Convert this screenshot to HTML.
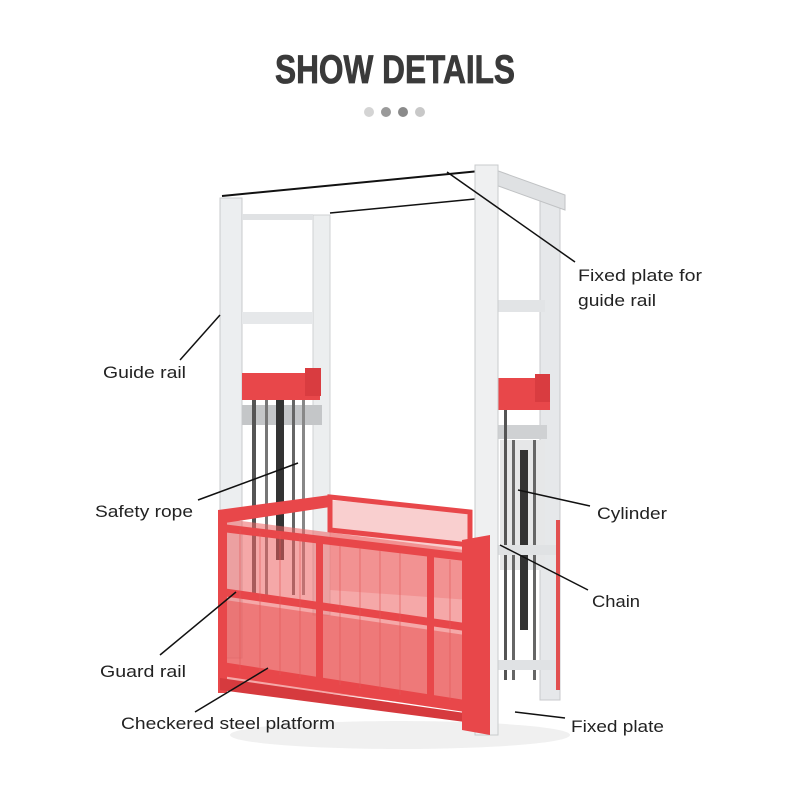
<!DOCTYPE html>
<html><head><meta charset="utf-8"><style>
html,body{margin:0;padding:0;background:#fff;}
svg{display:block;}
.t{font-family:"Liberation Sans",sans-serif;font-size:17px;fill:#222;}
</style></head><body>
<svg width="790" height="799" viewBox="0 0 790 799" xmlns="http://www.w3.org/2000/svg">
<rect width="790" height="799" fill="#fff"/>
<text x="395" y="83" text-anchor="middle" font-family="'Liberation Sans Narrow','Liberation Sans',sans-serif" font-weight="bold" font-size="40" fill="#3a3a3a" stroke="#3a3a3a" stroke-width="0.8" textLength="240" lengthAdjust="spacingAndGlyphs">SHOW DETAILS</text>
<circle cx="369" cy="112" r="5" fill="#d4d4d4"/>
<circle cx="386" cy="112" r="5" fill="#9a9a9a"/>
<circle cx="403" cy="112" r="5" fill="#8a8a8a"/>
<circle cx="420" cy="112" r="5" fill="#c8c8c8"/>

<ellipse cx="400" cy="735" rx="170" ry="14" fill="#f0f0f0"/>

<rect x="540" y="200" width="20" height="500" fill="#e6e8ea" stroke="#c8cacc"/>
<polygon points="490,168 565,195 565,210 490,183" fill="#dfe1e3" stroke="#c0c2c4"/>
<rect x="497" y="300" width="48" height="12" fill="#e2e4e6"/>
<rect x="497" y="425" width="50" height="14" fill="#cfd1d3"/>
<rect x="313" y="215" width="17" height="400" fill="#eceeef" stroke="#cfd1d3"/>
<rect x="220" y="198" width="22" height="460" fill="#eceef0" stroke="#c9cbcd"/>
<rect x="242" y="214" width="71" height="6" fill="#e0e2e4"/>
<rect x="242" y="312" width="71" height="12" fill="#e6e8ea"/>
<line x1="222" y1="196" x2="490" y2="170" stroke="#111" stroke-width="2"/>
<line x1="330" y1="213" x2="475" y2="199" stroke="#111" stroke-width="1.5"/>
<rect x="242" y="405" width="80" height="20" fill="#c4c6c8"/>
<rect x="252" y="395" width="4" height="200" fill="#555"/>
<rect x="265" y="395" width="3" height="200" fill="#777"/>
<rect x="276" y="390" width="8" height="170" fill="#333"/>
<rect x="292" y="395" width="3" height="200" fill="#666"/>
<rect x="302" y="395" width="3" height="200" fill="#888"/>
<polygon points="242,373 320,373 320,400 242,400" fill="#e8474a"/>
<rect x="305" y="368" width="16" height="28" fill="#d93c40"/>
<rect x="500" y="440" width="45" height="130" fill="#e6e7e8"/>
<rect x="504" y="400" width="3" height="280" fill="#555"/>
<rect x="512" y="440" width="3" height="240" fill="#666"/>
<rect x="520" y="450" width="8" height="180" fill="#333"/>
<rect x="533" y="440" width="3" height="240" fill="#666"/>
<polygon points="497,378 550,378 550,410 497,410" fill="#e8474a"/>
<rect x="535" y="374" width="15" height="28" fill="#d93c40"/>
<rect x="497" y="545" width="60" height="10" fill="#e0e2e4"/>
<rect x="497" y="660" width="60" height="10" fill="#e0e2e4"/>
<rect x="556" y="520" width="4" height="170" fill="#e25050"/>

<!-- red cage -->
<polygon points="330,500 470,512 470,600 330,590" fill="#f4a0a0" opacity="0.5"/>
<polygon points="330,497 470,512 470,545 330,530" fill="none" stroke="#e8474a" stroke-width="5"/>
<polygon points="218,518 465,550 465,710 218,680" fill="#ec6060" opacity="0.55"/>
<polygon points="225,600 465,635 465,705 225,670" fill="#ea5a5a" opacity="0.6"/>
<polygon points="218,510 330,495 330,507 218,524" fill="#e8474a"/>
<rect x="218" y="513" width="9" height="180" fill="#e8474a"/>
<polygon points="222,524 465,553 465,561 222,532" fill="#e8474a"/>
<polygon points="222,588 465,623 465,631 222,596" fill="#e8474a"/>
<polygon points="222,662 465,700 465,712 222,676" fill="#e8474a"/>
<polygon points="220,678 465,713 465,722 220,690" fill="#d63a3e"/>
<rect x="316" y="540" width="7" height="142" fill="#e8474a"/>
<rect x="427" y="553" width="7" height="150" fill="#e8474a"/>
<g stroke="#e25858" stroke-width="0.8" opacity="0.8">
<line x1="240" y1="530" x2="240" y2="670"/><line x1="260" y1="533" x2="260" y2="672"/><line x1="280" y1="535" x2="280" y2="675"/><line x1="300" y1="538" x2="300" y2="678"/>
<line x1="340" y1="545" x2="340" y2="685"/><line x1="360" y1="548" x2="360" y2="688"/><line x1="380" y1="550" x2="380" y2="690"/><line x1="400" y1="553" x2="400" y2="695"/><line x1="450" y1="560" x2="450" y2="700"/>
</g>
<rect x="475" y="165" width="23" height="570" fill="#eff0f1" stroke="#c9cbcd"/>
<polygon points="462,540 490,535 490,735 462,730" fill="#e8474a"/>

<g stroke="#111" stroke-width="1.5">
<line x1="447" y1="172" x2="575" y2="262"/>
<line x1="220" y1="315" x2="180" y2="360"/>
<line x1="298" y1="463" x2="198" y2="500"/>
<line x1="518" y1="490" x2="590" y2="506"/>
<line x1="500" y1="545" x2="588" y2="590"/>
<line x1="236" y1="592" x2="160" y2="655"/>
<line x1="268" y1="668" x2="195" y2="712"/>
<line x1="515" y1="712" x2="565" y2="718"/>
</g>
<text class="t" x="578" y="281" textLength="124" lengthAdjust="spacingAndGlyphs">Fixed plate for</text>
<text class="t" x="578" y="306" textLength="78" lengthAdjust="spacingAndGlyphs">guide rail</text>
<text class="t" x="103" y="378" textLength="83" lengthAdjust="spacingAndGlyphs">Guide rail</text>
<text class="t" x="95" y="517" textLength="98" lengthAdjust="spacingAndGlyphs">Safety rope</text>
<text class="t" x="597" y="519" textLength="70" lengthAdjust="spacingAndGlyphs">Cylinder</text>
<text class="t" x="592" y="607" textLength="48" lengthAdjust="spacingAndGlyphs">Chain</text>
<text class="t" x="100" y="677" textLength="86" lengthAdjust="spacingAndGlyphs">Guard rail</text>
<text class="t" x="121" y="729" textLength="214" lengthAdjust="spacingAndGlyphs">Checkered steel platform</text>
<text class="t" x="571" y="732" textLength="93" lengthAdjust="spacingAndGlyphs">Fixed plate</text>
</svg>
</body></html>
